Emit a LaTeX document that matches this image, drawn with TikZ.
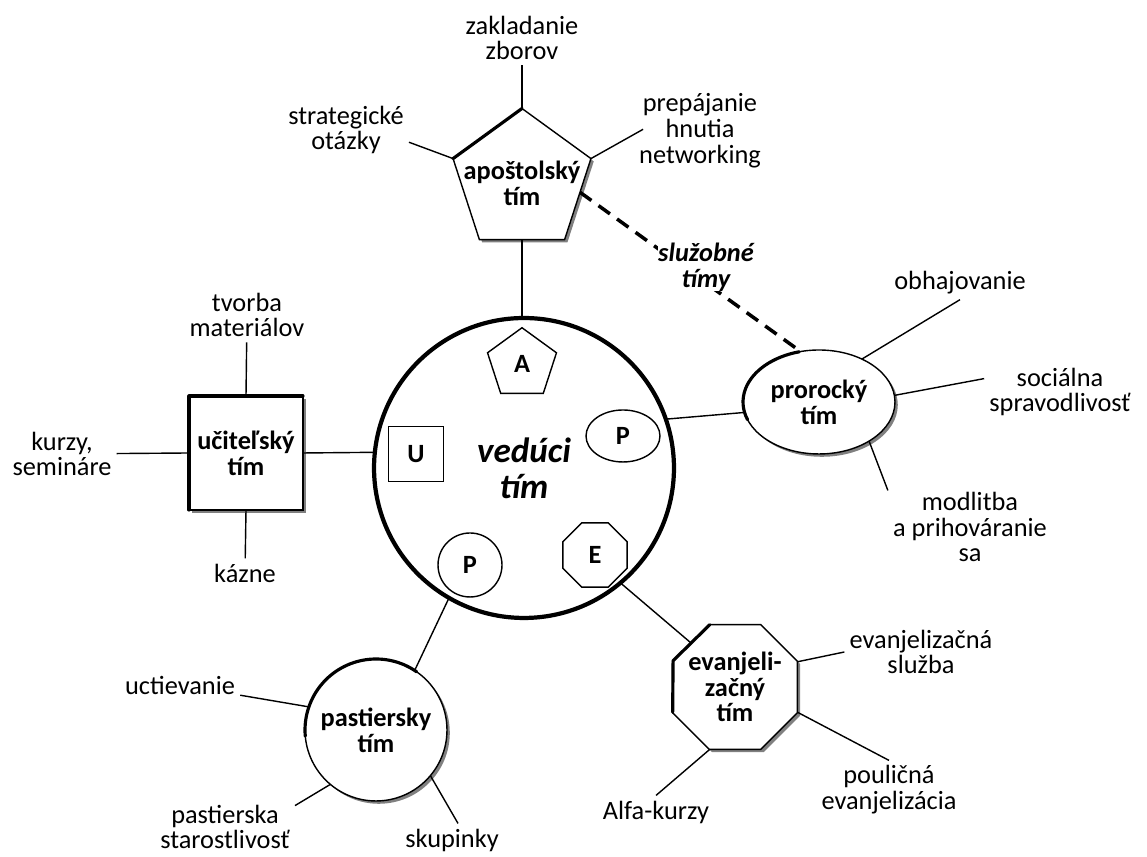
\documentclass[tikz,border=0pt]{standalone}
\usepackage{fontspec}
\setmainfont{Carlito}
\usetikzlibrary{shapes.geometric,shadows}

\tikzset{
  tim/.style={draw, line width=0.8pt, fill=white, inner sep=0pt, outer sep=0pt, align=center,
    font=\fontsize{15}{14.7}\selectfont\bfseries},
  timtext/.style={inner sep=0pt, align=center, font=\fontsize{15}{14.7}\selectfont\bfseries},
  maly/.style={tim, fill=none},
  tien/.style={drop shadow={shadow xshift=1.6pt, shadow yshift=-1.6pt, fill=black!50, opacity=1}},
  hrana/.style={line width=1.8pt, line cap=round, line join=round},
  popis/.style={align=center, inner sep=1pt, outer sep=2pt, font=\fontsize{15}{14.7}\selectfont},
  spoj/.style={line width=0.8pt},
}

\begin{document}
\begin{tikzpicture}[x=0.02cm, y=0.02cm]
\useasboundingbox (0,0) rectangle (1147,857);

\node[tim, circle, line width=2.4pt, minimum size=6cm, font=\fontsize{20}{20.4}\selectfont\bfseries\itshape] (veduci) at (524,389) {vedúci\\tím};

\node[maly, regular polygon, regular polygon sides=5, minimum size=1.45cm] (malyA) at (522,493) {A};
\node[maly, ellipse, minimum width=1.48cm, minimum height=1.04cm] (malyP) at (623,421) {P};
\node[maly, rectangle, minimum size=1.1cm] (malyU) at (416,403) {U};
\node[maly, circle, minimum size=1.28cm] (malyPa) at (470,292) {P};
\node[maly, regular polygon, regular polygon sides=8, minimum size=1.39cm] (malyE) at (595,302) {E};

\node[tim, tien, regular polygon, regular polygon sides=5, minimum size=2.9cm] (apostol) at (522,676) {};
\node[timtext] (apostoltext) at (522,674) {apoštolský\\tím};
\node[tim, tien, ellipse, minimum width=3.04cm, minimum height=2.08cm] (prorok) at (819,455) {prorocký\\tím};
\node[tim, tien, rectangle, minimum size=2.28cm] (ucitel) at (246,404) {učiteľský\\tím};
\node[tim, tien, circle, minimum size=2.84cm] (pastier) at (376,127) {pastiersky\\tím};
\node[tim, tien, regular polygon, regular polygon sides=8, minimum size=2.7cm] (evanjelista) at (735,170) {};
\node[timtext] (evanjelistatext) at (735,170) {evanjeli-\\začný\\tím};

\draw[hrana] (apostol.162) -- (apostol.90);
\draw[hrana] ([shift={(105:1.52cm and 1.04cm)}]prorok.center) arc[start angle=105, end angle=200, x radius=1.52cm, y radius=1.04cm];
\draw[hrana] (ucitel.south west) -- (ucitel.north west) -- (ucitel.north east);
\draw[hrana] ([shift={(55:1.42cm)}]pastier.center) arc[start angle=55, end angle=185, radius=1.42cm];
\draw[hrana] (evanjelista.112.5) -- (evanjelista.157.5) -- (evanjelista.202.5);

\node[popis] (zakladanie) at (522,819) {zakladanie\\zborov};
\node[popis] (strategicke) at (346,727) {strategické\\otázky};
\node[popis] (prepajanie) at (700,726) {prepájanie\\hnutia\\networking};
\node[popis] (obhajovanie) at (960,574) {obhajovanie};
\node[popis] (socialna) at (1060,465) {sociálna\\spravodlivosť};
\node[popis] (modlitba) at (970,330) {modlitba\\a prihováranie\\sa};
\node[popis] (tvorba) at (247,542) {tvorba\\materiálov};
\node[popis] (kurzy) at (62,403) {kurzy,\\semináre};
\node[popis] (kazne) at (245,284) {kázne};
\node[popis] (uctievanie) at (180,172) {uctievanie};
\node[popis] (starostlivost) at (225,30) {pastierska\\starostlivosť};
\node[popis] (skupinky) at (452,17) {skupinky};
\node[popis] (evsluzba) at (921,205) {evanjelizačná\\služba};
\node[popis] (poulicna) at (889,67) {pouličná\\evanjelizácia};
\node[popis] (alfa) at (656,45) {Alfa-kurzy};

\draw[spoj] (apostol.south) -- (apostol.south |- veduci.north);
\draw[spoj] (ucitel.east) -- (veduci.174);
\draw[spoj] (veduci.19) -- (prorok.188);
\draw[spoj] (pastier.57) -- (veduci.240);
\draw[spoj] (evanjelista.135) -- (veduci.310);

\draw[line width=2pt, dash pattern=on 8pt off 5pt] (apostol.-11) -- (prorok.110);
\node[popis, fill=white, inner sep=0pt, font=\fontsize{15}{14.7}\selectfont\bfseries\itshape] (sluzobne) at (706,590) {služobné\\tímy};

\draw[spoj] (apostol.90) -- (zakladanie);
\draw[spoj] (apostol.162) -- (strategicke.-11);
\draw[spoj, shorten >=-6pt] (apostol.18) -- (prepajanie.183);
\draw[spoj] (prorok.45) -- (obhajovanie.south);
\draw[spoj] (prorok.5) -- (socialna.170);
\draw[spoj] (prorok.-38) -- (modlitba.156);
\draw[spoj] (ucitel.north) -- (tvorba);
\draw[spoj] (ucitel.west) -- (kurzy);
\draw[spoj] (ucitel.south) -- (kazne);
\draw[spoj] (pastier.161) -- (uctievanie);
\draw[spoj] (pastier.230) -- (starostlivost.17);
\draw[spoj] (pastier.-40) -- (skupinky.70);
\draw[spoj] (evanjelista.22) -- (evsluzba.west);
\draw[spoj] (evanjelista.-22) -- (poulicna.north);
\draw[spoj] (evanjelista.248) -- (alfa.north);

\end{tikzpicture}
\end{document}
